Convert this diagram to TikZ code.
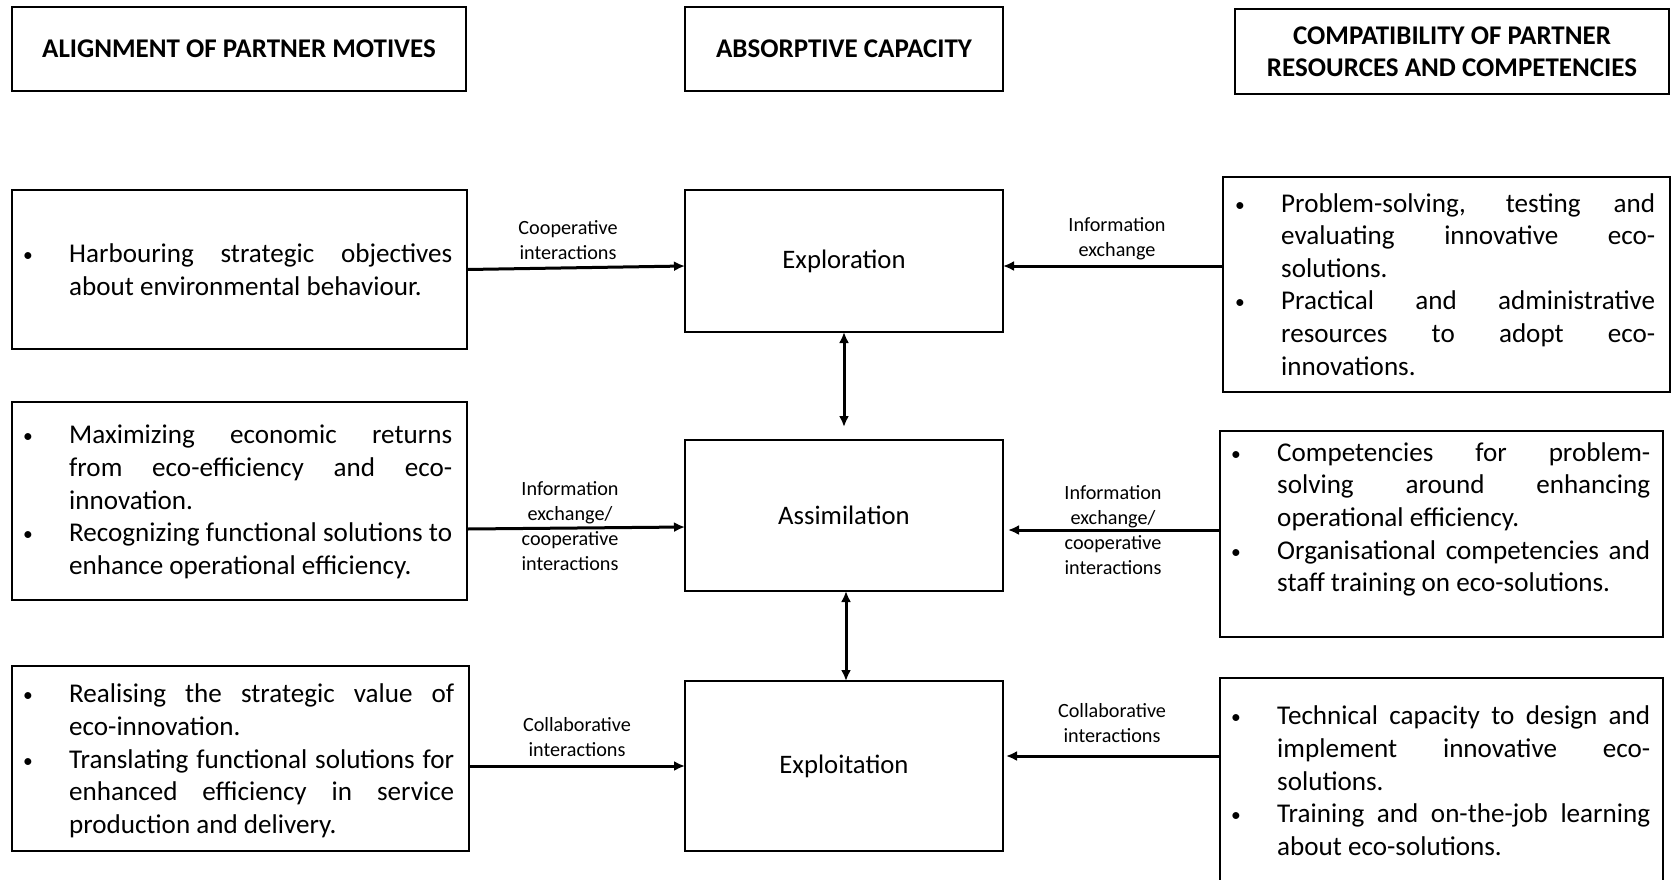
\documentclass[tikz,border=0pt]{standalone}
\usepackage{fontspec}
\setmainfont{Carlito}
\usetikzlibrary{arrows.meta}
\newlength\tw
\newlength\bo
\setlength\bo{46pt}
\newcommand\J[1]{\makebox[\tw][s]{\strut#1}}
\newcommand\N[1]{\strut#1}
\newcommand\B{\llap{\makebox[\bo][l]{\raisebox{1pt}{\scalebox{0.72}{\textbullet}}}}}
\begin{document}
\begin{tikzpicture}[x=1pt,y=-1pt,
 box/.style={draw, line width=1.6pt, inner sep=0pt, outer sep=0pt, anchor=north west},
 body/.style={inner sep=0pt, align=left, anchor=west, font=\fontsize{27.1}{32.6}\selectfont},
 ttl/.style={align=center, font=\fontsize{27}{32}\selectfont\bfseries},
 ctr/.style={font=\fontsize{26.7}{32}\selectfont},
 lbl/.style={inner sep=0pt, align=center, font=\fontsize{20.2}{25}\selectfont},
 arr/.style={line width=3pt, -{Latex[length=11pt,width=10pt]}},
 darr/.style={line width=3pt, {Latex[length=11pt,width=10pt]}-{Latex[length=11pt,width=10pt]}}]
\useasboundingbox (0,0) rectangle (1672,879);
\clip (0,0) rectangle (1672,879);
% titles
\node[box, ttl, minimum width=454pt, minimum height=84pt] (tL) at (12,7) {ALIGNMENT OF PARTNER MOTIVES};
\node[box, ttl, minimum width=318pt, minimum height=84pt] (tC) at (685,7) {ABSORPTIVE CAPACITY};
\node[box, ttl, minimum width=434pt, minimum height=85pt] (tR) at (1235,9) {COMPATIBILITY OF PARTNER\\RESOURCES AND COMPETENCIES};
% centre boxes
\node[box, ctr, minimum width=318pt, minimum height=142pt] (Explore) at (685,190) {Exploration};
\node[box, ctr, minimum width=318pt, minimum height=151pt] (Assim) at (685,440) {Assimilation};
\node[box, ctr, minimum width=318pt, minimum height=170pt] (Exploit) at (685,681) {Exploitation};
% left boxes
\node[box, minimum width=455pt, minimum height=159pt] (L1) at (12,190) {};
\node[box, minimum width=455pt, minimum height=198pt] (L2) at (12,402) {};
\node[box, minimum width=457pt, minimum height=185pt] (L3) at (12,666) {};
% right boxes
\node[box, minimum width=447pt, minimum height=215pt] (R1) at (1223,177) {};
\node[box, minimum width=443pt, minimum height=206pt] (R2) at (1220,431) {};
\node[box, minimum width=443pt, minimum height=206pt] (R3) at (1220,678) {};
% left texts
\setlength\tw{383pt}
\node[body] (L1t) at (69,272.5) {\B\J{Harbouring strategic objectives}\\\N{about environmental behaviour.}};
\node[body] (L2t) at (69,502.5) {\B\J{Maximizing economic returns}\\\J{from eco-efficiency and eco-}\\\N{innovation.}\\\B\J{Recognizing functional solutions to}\\\N{enhance operational efficiency.}};
\setlength\tw{385pt}
\node[body] (L3t) at (69,761.5) {\B\J{Realising the strategic value of}\\\N{eco-innovation.}\\\B\J{Translating functional solutions for}\\\J{enhanced efficiency in service}\\\N{production and delivery.}};
% right texts
\setlength\tw{374pt}
\node[body] (R1t) at (1281,287) {\B\J{Problem-solving, testing and}\\\J{evaluating innovative eco-}\\\N{solutions.}\\\B\J{Practical and administrative}\\\J{resources to adopt eco-}\\\N{innovations.}};
\setlength\tw{373pt}
\node[body] (R2t) at (1277,520) {\B\J{Competencies for problem-}\\\J{solving around enhancing}\\\N{operational efficiency.}\\\B\J{Organisational competencies and}\\\N{staff training on eco-solutions.}};
\node[body] (R3t) at (1277,783.5) {\B\J{Technical capacity to design and}\\\J{implement innovative eco-}\\\N{solutions.}\\\B\J{Training and on-the-job learning}\\\N{about eco-solutions.}};
% connectors
\draw[arr] (L1.east) -- ([yshift=-5pt]Explore.west);
\draw[arr] ([yshift=18.5pt]R1.west) -- ([yshift=-5pt]Explore.east);
\coordinate (a3e) at ([yshift=13pt]Assim.north);
\draw[darr] (Explore.south) -- (a3e);
\draw[darr] ([xshift=2pt]Assim.south) -- ([xshift=2pt]Exploit.north);
\draw[arr] ([yshift=-28pt]L2.east) -- ([yshift=-11.5pt]Assim.west);
\coordinate (a6e) at ([xshift=5pt,yshift=-14.5pt]Assim.east);
\draw[arr] ([yshift=4pt]R2.west) -- (a6e);
\draw[arr] ([yshift=-7.5pt]L3.east) -- (Exploit.west);
\coordinate (a8e) at ([xshift=3pt,yshift=10pt]Exploit.east);
\draw[arr] ([yshift=25pt]R3.west) -- (a8e);
% labels
\node[lbl] (lab1) at (568,240) {Cooperative\\interactions};
\node[lbl] (lab2) at (1117,239) {Information\\exchange};
\node[lbl] (lab5) at (570,526.5) {Information\\exchange/\\cooperative\\interactions};
\node[lbl] (lab6) at (1113,530.5) {Information\\exchange/\\cooperative\\interactions};
\node[lbl] (lab7) at (577,737) {Collaborative\\interactions};
\node[lbl] (lab8) at (1112,723) {Collaborative\\interactions};
\end{tikzpicture}
\end{document}
